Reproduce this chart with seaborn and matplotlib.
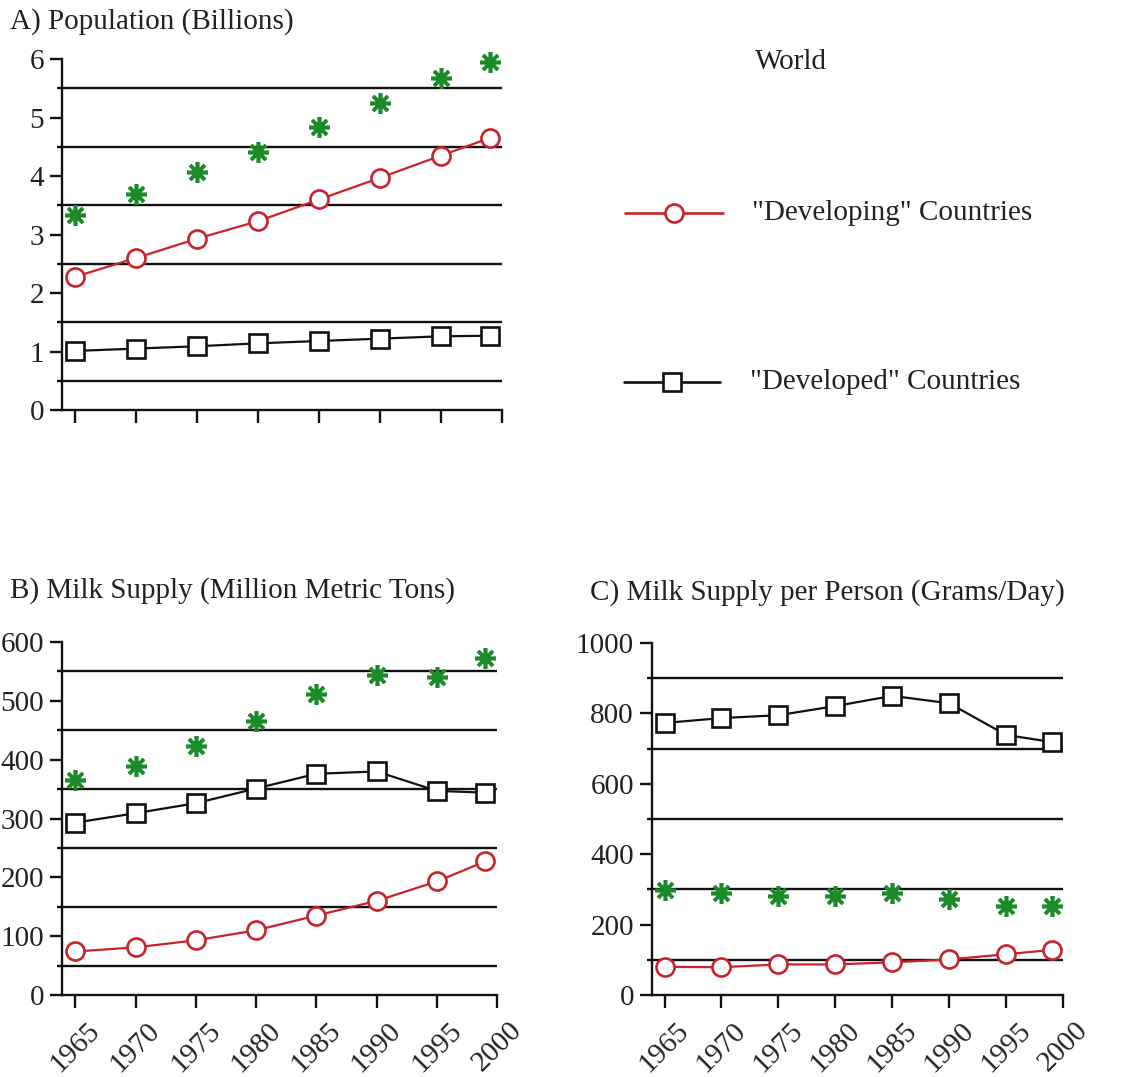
import numpy as np
import matplotlib
matplotlib.use("Agg")
import matplotlib.pyplot as plt
import seaborn as sns

sns.set_style("ticks")
plt.rcParams["font.family"] = ["Liberation Serif", "DejaVu Serif"]

# ---- data -------------------------------------------------------------
years = [1965, 1970, 1975, 1980, 1985, 1990, 1995, 1999]

pop_world      = [3.33, 3.70, 4.07, 4.41, 4.83, 5.24, 5.67, 5.95]
pop_developing = [2.28, 2.60, 2.93, 3.23, 3.60, 3.97, 4.35, 4.65]
pop_developed  = [1.01, 1.05, 1.09, 1.14, 1.18, 1.22, 1.26, 1.27]

milk_world      = [365, 390, 423, 465, 512, 544, 540, 573]
milk_developing = [74, 81, 93, 110, 135, 160, 193, 227]
milk_developed  = [293, 309, 326, 351, 376, 380, 347, 344]

pp_world      = [298, 290, 280, 280, 290, 272, 253, 253]
pp_developing = [80, 79, 87, 87, 93, 101, 116, 128]
pp_developed  = [773, 787, 795, 821, 850, 829, 739, 719]

xticks = [1965, 1970, 1975, 1980, 1985, 1990, 1995, 2000]

labels = ["World", '"Developing" Countries', '"Developed" Countries']

RED = "#c8232b"
GREEN = "#1d8a2a"
BLACK = "#111111"
TXT = "#222222"
FS = 21
MS = 13

fig = plt.figure(figsize=(11.30, 10.77), dpi=100)


def panel(rect, world, developing, developed, yticks, grid, show_xlabels):
    ax = fig.add_axes(rect)
    for g in grid:
        ax.hlines(g, -0.012, 1.0, transform=ax.get_yaxis_transform(),
                  color=BLACK, lw=1.7, zorder=1, clip_on=False)
    sns.lineplot(x=years, y=developed, ax=ax, color=BLACK, lw=1.6,
                 marker="s", markersize=MS, markerfacecolor="white",
                 markeredgecolor=BLACK, markeredgewidth=1.9, zorder=3,
                 clip_on=False)
    sns.lineplot(x=years, y=developing, ax=ax, color=RED, lw=1.6,
                 marker="o", markersize=MS, markerfacecolor="white",
                 markeredgecolor=RED, markeredgewidth=1.9, zorder=3,
                 clip_on=False)
    sns.lineplot(x=years, y=world, ax=ax, color=GREEN, linestyle="none",
                 marker=(8, 2, 0), markersize=15, markeredgewidth=2.6,
                 markeredgecolor=GREEN, zorder=4, clip_on=False)
    ax.set_xlim(1963.9, 2000)
    ax.set_ylim(yticks[0], yticks[-1])
    ax.set_xticks(xticks)
    ax.set_yticks(yticks)
    sns.despine(ax=ax)
    for s in ("left", "bottom"):
        ax.spines[s].set_linewidth(1.7)
        ax.spines[s].set_color(BLACK)
    ax.tick_params(axis="both", direction="out", length=9, width=1.7,
                   color=BLACK, labelsize=FS, labelcolor=TXT)
    ax.tick_params(axis="y", pad=4)
    if show_xlabels:
        ax.set_xticklabels([str(t) for t in xticks], rotation=45, ha="center")
        ax.tick_params(axis="x", pad=7)
    else:
        ax.set_xticklabels([])
    ax.set_xlabel("")
    ax.set_ylabel("")
    return ax


panel([0.0549, 0.6193, 0.3894, 0.3259], pop_world, pop_developing, pop_developed,
      [0, 1, 2, 3, 4, 5, 6], [0.5, 1.5, 2.5, 3.5, 4.5, 5.5], False)
panel([0.0549, 0.0761, 0.3850, 0.3278], milk_world, milk_developing, milk_developed,
      [0, 100, 200, 300, 400, 500, 600], [50, 150, 250, 350, 450, 550], True)
panel([0.5770, 0.0761, 0.3637, 0.3268], pp_world, pp_developing, pp_developed,
      [0, 200, 400, 600, 800, 1000], [100, 300, 500, 700, 900], True)

fig.text(0.009, 1 - 22 / 1077, "A) Population (Billions)", fontsize=FS,
         va="center", ha="left", color=TXT)
fig.text(0.009, 1 - 591 / 1077, "B) Milk Supply (Million Metric Tons)", fontsize=FS,
         va="center", ha="left", color=TXT)
fig.text(590 / 1130, 1 - 593 / 1077, "C) Milk Supply per Person (Grams/Day)",
         fontsize=FS, va="center", ha="left", color=TXT)

# ---- key --------------------------------------------------------------
key = fig.add_axes([0, 0, 1, 1])
key.set_xlim(0, 1130)
key.set_ylim(1077, 0)
key.axis("off")
key.text(755, 62, labels[0], fontsize=FS, va="center", ha="left", color=TXT)
key.plot([625, 723], [213, 213], color=RED, lw=1.9)
key.plot([674], [213], marker="o", markersize=MS, markerfacecolor="white",
         markeredgecolor=RED, markeredgewidth=1.9)
key.text(752, 213, labels[1], fontsize=FS, va="center", ha="left", color=TXT)
key.plot([624, 720], [382, 382], color=BLACK, lw=1.9)
key.plot([672], [382], marker="s", markersize=MS, markerfacecolor="white",
         markeredgecolor=BLACK, markeredgewidth=1.9)
key.text(750, 382, labels[2], fontsize=FS, va="center", ha="left", color=TXT)

fig.savefig("out.png", dpi=100)
